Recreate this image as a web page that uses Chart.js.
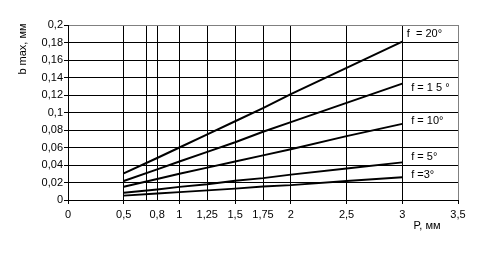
<!DOCTYPE html>
<html>
<head>
<meta charset="utf-8">
<script src="https://cdn.jsdelivr.net/npm/chart.js@4/dist/chart.umd.min.js"></script>
<style>
html,body{margin:0;padding:0;background:#fff;}
canvas{display:block;}
</style>
</head>
<body>
<canvas id="c" width="482" height="264"></canvas>
<script>
// ---- data ----
const pValues = [0.5, 0.8, 1, 1.25, 1.5, 1.75, 2, 2.5, 3];
const f20 = [0.0305, 0.048, 0.060, 0.075, 0.090, 0.105, 0.121, 0.151, 0.181];
const f15 = [0.0217, 0.035, 0.044, 0.055, 0.066, 0.078, 0.089, 0.111, 0.133];
const f10 = [0.0152, 0.024, 0.030, 0.037, 0.044, 0.051, 0.058, 0.073, 0.087];
const f5  = [0.0083, 0.012, 0.015, 0.018, 0.022, 0.025, 0.029, 0.036, 0.043];
const f3  = [0.0050, 0.0075, 0.009, 0.011, 0.013, 0.0155, 0.017, 0.0217, 0.026];
const seriesLabels = ["f  = 20°", "f = 1 5 °", "f = 10°", "f = 5°", "f =3°"];
const xGridValues = [0, 0.5, 0.7, 0.8, 1, 1.25, 1.5, 1.75, 2, 2.5, 3, 3.5];
const xTickLabels = ["0", "0,5", "", "0,8", "1", "1,25", "1,5", "1,75", "2", "2,5", "3", "3,5"];
const yTitle = "b max, мм";
const xTitle = "P, мм";

// label anchor positions (data units), kept separate from the data
const labelAnchors = [[3.04, 0.190], [3.08, 0.128], [3.08, 0.090], [3.08, 0.049], [3.08, 0.0286]];

const toPts = arr => arr.map((v, i) => ({x: pValues[i], y: v}));
const allSeries = [f20, f15, f10, f5, f3];
const FONT = '11px "Liberation Sans", Arial, sans-serif';

const textPlugin = {
  id: 'texts',
  afterDraw(chart) {
    const ctx = chart.ctx;
    const xs = chart.scales.x, ys = chart.scales.y;
    ctx.save();
    ctx.fillStyle = '#000';
    ctx.font = FONT;
    ctx.textBaseline = 'middle';
    ctx.textAlign = 'left';
    seriesLabels.forEach((t, i) => {
      ctx.fillText(t, xs.getPixelForValue(labelAnchors[i][0]), ys.getPixelForValue(labelAnchors[i][1]));
    });
    // x title
    ctx.textAlign = 'center';
    ctx.fillText(xTitle, 427, 226);
    // y title rotated
    ctx.translate(23, 49);
    ctx.rotate(-Math.PI / 2);
    ctx.fillText(yTitle, 0, 0);
    ctx.restore();
  }
};

const isHalf = v => Math.abs(v * 2 - Math.round(v * 2)) < 1e-9;

new Chart(document.getElementById('c'), {
  type: 'line',
  data: {
    datasets: allSeries.map(s => ({
      data: toPts(s),
      borderColor: '#000',
      borderWidth: 2,
      pointRadius: 0,
      tension: 0,
      fill: false
    }))
  },
  options: {
    responsive: false,
    animation: false,
    devicePixelRatio: 1,
    layout: {padding: {top: 25, right: 24, left: 0, bottom: 0}},
    plugins: {legend: {display: false}, tooltip: {enabled: false}},
    scales: {
      x: {
        type: 'linear',
        min: 0, max: 3.5,
        afterBuildTicks: s => { s.ticks = xGridValues.map(v => ({value: v})); },
        afterFit: s => { s.height = 64; },
        border: {color: '#000', width: 1},
        grid: {
          color: c => (c.tick && Math.abs(c.tick.value - 3.5) < 1e-9) ? '#808080' : '#000',
          tickColor: c => (c.tick && isHalf(c.tick.value)) ? '#000' : 'rgba(0,0,0,0)',
          tickLength: 4,
          lineWidth: 1
        },
        ticks: {
          autoSkip: false, maxRotation: 0, padding: 4,
          color: '#000',
          font: {family: '"Liberation Sans", Arial, sans-serif', size: 11},
          callback: (v, i) => xTickLabels[i]
        }
      },
      y: {
        min: 0, max: 0.2,
        afterFit: s => { s.width = 68; },
        border: {color: '#000', width: 1},
        grid: {
          color: c => (c.tick && Math.abs(c.tick.value - 0.2) < 1e-9) ? '#808080' : '#000',
          tickColor: '#000',
          tickLength: 4,
          lineWidth: 1
        },
        ticks: {
          stepSize: 0.02, padding: 1,
          color: '#000',
          font: {family: '"Liberation Sans", Arial, sans-serif', size: 11},
          callback: v => String(parseFloat(v.toFixed(2))).replace('.', ',')
        }
      }
    }
  },
  plugins: [textPlugin]
});
</script>
</body>
</html>
